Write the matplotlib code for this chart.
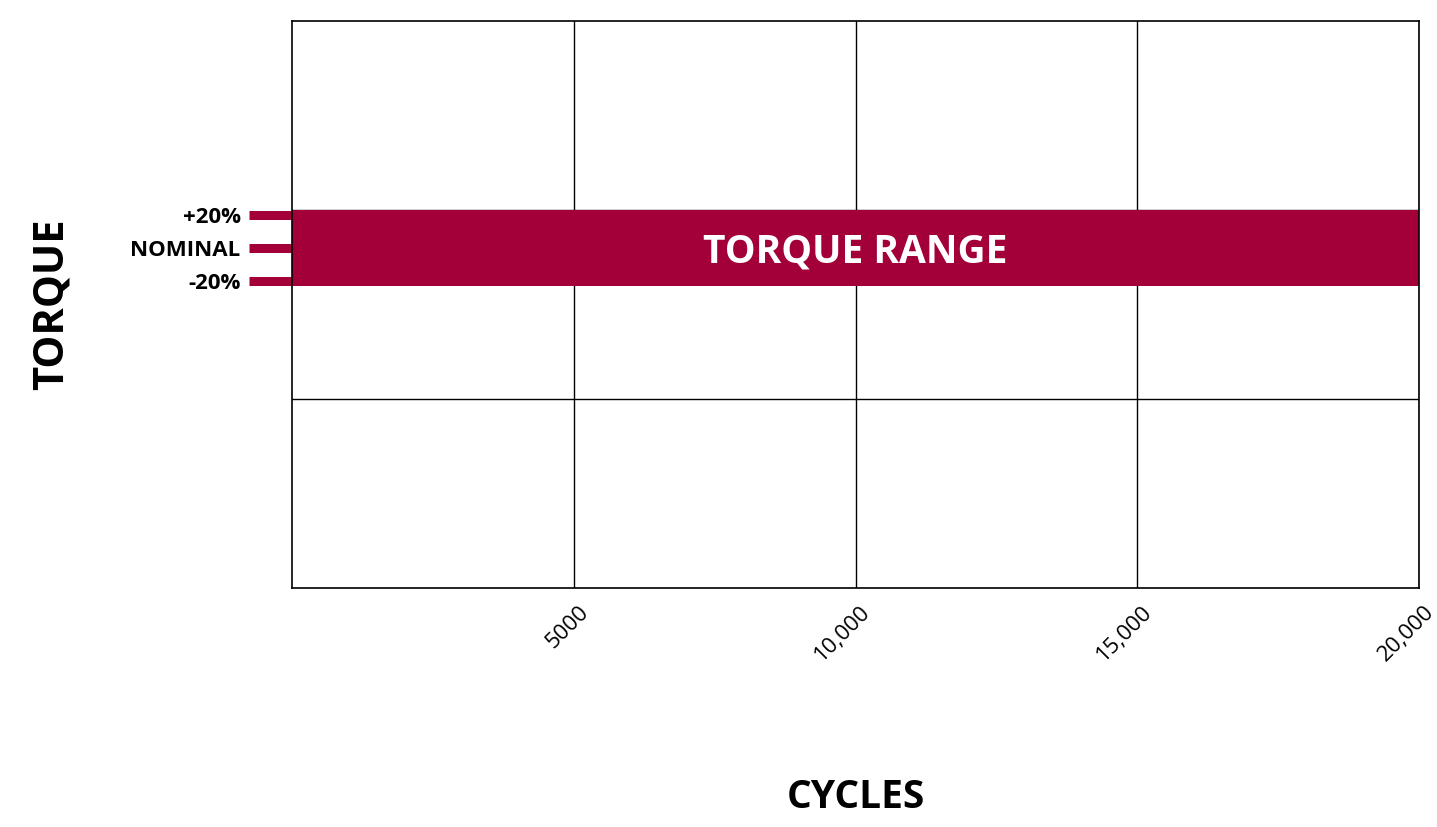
import matplotlib
matplotlib.use("Agg")
import matplotlib.pyplot as plt
from matplotlib.transforms import ScaledTranslation

# Data
x_ticks = [5000, 10000, 15000, 20000]
x_tick_labels = ["5000", "10,000", "15,000", "20,000"]
x_limits = [0, 20000]
y_limits = [0, 3]
y_grid = [1, 2]
band_low, band_high = 1.6, 2.0
band_label = "TORQUE RANGE"
y_marks = [1.975, 1.8, 1.625]
y_mark_labels = ["+20%", "NOMINAL", "-20%"]

RED = "#A3003A"
FONT = "Open Sans"

fig = plt.figure(figsize=(14.37, 8.27), dpi=100)
ax = fig.add_axes([292/1437, 1-588/827, (1419-292)/1437, (588-21)/827])
ax.set_xlim(*x_limits)
ax.set_ylim(*y_limits)

for xv in x_ticks:
    ax.axvline(xv, color="black", lw=1.0, zorder=1)
for yv in y_grid:
    ax.axhline(yv, color="black", lw=1.0, zorder=1)

ax.axhspan(band_low, band_high, color=RED, lw=0, zorder=2)
ax.text(sum(x_limits)/2, band_low + 0.3*(band_high-band_low), band_label, color="white",
        fontsize=28, fontweight="bold", family=FONT, ha="center", va="baseline", zorder=3)

ax.set_xticks(x_ticks)
ax.set_xticklabels(x_tick_labels, rotation=45, rotation_mode="anchor",
                   ha="right", va="center", family=FONT, fontsize=16)
ax.tick_params(axis="x", length=0, pad=0)
off = ScaledTranslation(0.12, -0.21, fig.dpi_scale_trans)
for lbl in ax.get_xticklabels():
    lbl.set_transform(lbl.get_transform() + off)

ax.set_yticks(y_marks)
ax.set_yticklabels(y_mark_labels, family=FONT, fontsize=16, fontweight="bold")
ax.tick_params(axis="y", length=31, width=6.5, color=RED, pad=6)

for s in ax.spines.values():
    s.set_color("black")
    s.set_linewidth(1.2)
    s.set_zorder(4)

ax.set_ylabel("TORQUE", family=FONT, fontsize=30, fontweight="bold")
ax.yaxis.set_label_coords(-0.195, 0.5)
ax.set_xlabel("CYCLES", family=FONT, fontsize=28, fontweight="bold")
ax.xaxis.set_label_coords(0.5, -0.335)

fig.savefig("out.png", dpi=100)
